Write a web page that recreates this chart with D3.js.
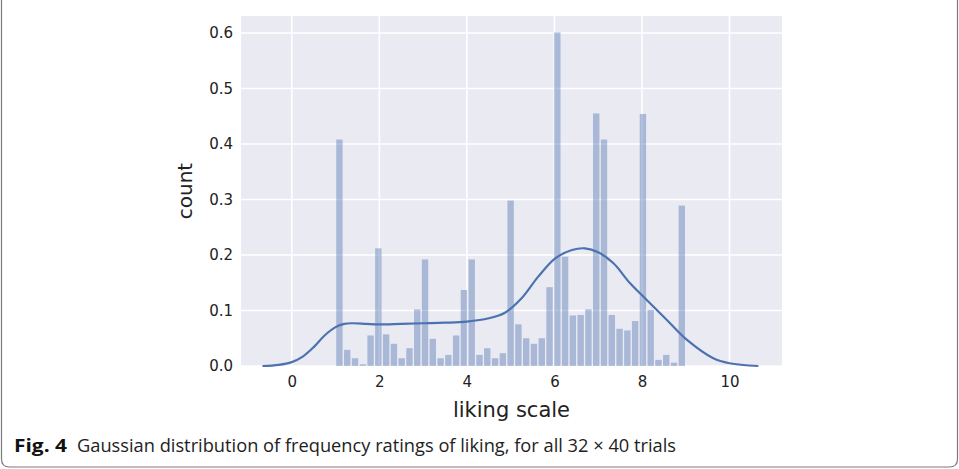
<!DOCTYPE html>
<html>
<head>
<meta charset="utf-8">
<script src="https://cdn.jsdelivr.net/npm/d3@7"></script>
<style>
  html, body { margin: 0; padding: 0; background: #ffffff; }
  svg { display: block; }
</style>
</head>
<body>
<svg id="chart" width="959" height="469"></svg>
<script>
// ---- data ----
const binStart = 1;
const binEnd = 9;
const density = [
  0.408, 0.029, 0.014, 0.003, 0.055, 0.212, 0.057, 0.040, 0.014, 0.032,
  0.102, 0.192, 0.049, 0.014, 0.020, 0.055, 0.137, 0.192, 0.020, 0.032,
  0.014, 0.023, 0.298, 0.075, 0.050, 0.040, 0.050, 0.142, 0.601, 0.197,
  0.091, 0.092, 0.102, 0.455, 0.408, 0.092, 0.067, 0.064, 0.081, 0.454,
  0.101, 0.011, 0.020, 0.006, 0.289
];
const kdeX = [-0.67, -0.3, 0, 0.25, 0.5, 0.75, 1.0, 1.2, 1.4, 1.7, 2.0, 2.5, 3.0, 3.5, 4.0, 4.5, 4.87, 5.25, 5.63, 6.02, 6.4, 6.7, 7.0, 7.35, 7.73, 8.11, 8.57, 9.03, 9.63, 10.0, 10.66];
const kdeY = [0.000, 0.002, 0.007, 0.017, 0.034, 0.055, 0.070, 0.076, 0.077, 0.076, 0.075, 0.076, 0.077, 0.078, 0.080, 0.086, 0.096, 0.122, 0.161, 0.194, 0.209, 0.212, 0.205, 0.185, 0.149, 0.119, 0.083, 0.047, 0.014, 0.005, 0.000];
const xTicks = [0, 2, 4, 6, 8, 10];
const yTicks = [0.0, 0.1, 0.2, 0.3, 0.4, 0.5, 0.6];
const xLabel = "liking scale";
const yLabel = "count";
const captionBold = "Fig. 4";
const captionText = "Gaussian distribution of frequency ratings of liking, for all 32 \u00d7 40 trials";

// ---- layout ----
const svg = d3.select("#chart");
const plot = { left: 241, right: 782, top: 16, bottom: 366 };
const x = d3.scaleLinear().domain([-1.16, 11.2]).range([plot.left, plot.right]);
const y = d3.scaleLinear().domain([0, 0.6306]).range([plot.bottom, plot.top]);

// outer frame (rounded box)
svg.append("path")
  .attr("d", "M1.5,0 L1.5,459 Q1.5,467 9.5,467 L949.5,467 Q957.5,467 957.5,459 L957.5,0")
  .attr("fill", "none").attr("stroke", "#7a7a7a").attr("stroke-width", 1.2);

// background
svg.append("rect")
  .attr("x", plot.left).attr("y", plot.top)
  .attr("width", plot.right - plot.left).attr("height", plot.bottom - plot.top)
  .attr("fill", "#EAEAF2");

// grid
const grid = svg.append("g");
grid.selectAll("line.gx").data(xTicks).enter().append("line")
  .attr("x1", d => x(d)).attr("x2", d => x(d))
  .attr("y1", plot.top).attr("y2", plot.bottom)
  .attr("stroke", "#ffffff").attr("stroke-width", 1.6);
grid.selectAll("line.gy").data(yTicks).enter().append("line")
  .attr("x1", plot.left).attr("x2", plot.right)
  .attr("y1", d => y(d)).attr("y2", d => y(d))
  .attr("stroke", "#ffffff").attr("stroke-width", 1.6);

// bars
const nb = density.length;
const bw = (binEnd - binStart) / nb;
svg.append("g").selectAll("rect").data(density).enter().append("rect")
  .attr("x", (d, i) => x(binStart + i * bw) + 0.7)
  .attr("width", (d, i) => x(binStart + (i + 1) * bw) - x(binStart + i * bw) - 1.4)
  .attr("y", d => y(d))
  .attr("height", d => y(0) - y(d))
  .attr("fill", "#4C72B0").attr("fill-opacity", 0.42);

// KDE line
const kde = kdeX.map((v, i) => [v, kdeY[i]]);
svg.append("path")
  .datum(kde)
  .attr("d", d3.line().x(d => x(d[0])).y(d => y(d[1])).curve(d3.curveCatmullRom.alpha(0.5)))
  .attr("fill", "none").attr("stroke", "#4C72B0").attr("stroke-width", 2.2);

// axes
const font = "'DejaVu Sans', sans-serif";
const xAxis = svg.append("g").attr("transform", `translate(0,${plot.bottom})`)
  .call(d3.axisBottom(x).tickValues(xTicks).tickSize(0).tickPadding(10).tickFormat(d3.format("d")));
xAxis.select(".domain").remove();
xAxis.selectAll("text").attr("font-family", font).attr("font-size", 15).attr("fill", "#222");

const yAxis = svg.append("g").attr("transform", `translate(${plot.left},0)`)
  .call(d3.axisLeft(y).tickValues(yTicks).tickSize(0).tickPadding(8).tickFormat(d3.format(".1f")));
yAxis.select(".domain").remove();
yAxis.selectAll("text").attr("font-family", font).attr("font-size", 15).attr("fill", "#222");

// axis labels
svg.append("text")
  .attr("x", (plot.left + plot.right) / 2).attr("y", 417)
  .attr("text-anchor", "middle")
  .attr("font-family", font).attr("font-size", 21).attr("fill", "#222")
  .text(xLabel);
svg.append("text")
  .attr("transform", `translate(192,${(plot.top + plot.bottom) / 2}) rotate(-90)`)
  .attr("text-anchor", "middle")
  .attr("font-family", font).attr("font-size", 20).attr("fill", "#222")
  .text(yLabel);

// caption
svg.append("text")
  .attr("x", 14).attr("y", 452)
  .attr("font-family", "'Open Sans', sans-serif").attr("font-weight", "bold")
  .attr("font-size", 18).attr("fill", "#111")
  .attr("textLength", 53).attr("lengthAdjust", "spacingAndGlyphs")
  .text(captionBold);
svg.append("text")
  .attr("x", 77).attr("y", 452)
  .attr("font-family", "'Open Sans', sans-serif")
  .attr("font-size", 18).attr("fill", "#222")
  .attr("textLength", 599).attr("lengthAdjust", "spacingAndGlyphs")
  .text(captionText);
</script>
</body>
</html>
